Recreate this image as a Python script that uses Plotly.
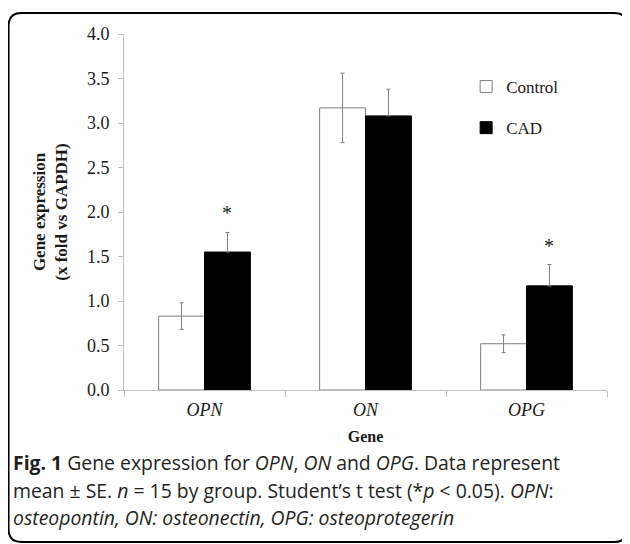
import plotly.graph_objects as go

# ---- data ----
genes = ["OPN", "ON", "OPG"]
control_mean = [0.83, 3.17, 0.52]
control_se = [0.15, 0.39, 0.10]
cad_mean = [1.55, 3.08, 1.17]
cad_se = [0.22, 0.30, 0.24]
significant = [True, False, True]
y_ticks = [0.0, 0.5, 1.0, 1.5, 2.0, 2.5, 3.0, 3.5, 4.0]

# ---- layout geometry (window pixels) ----
WIN_W, WIN_H = 630, 544
OFF = 8  # page body margin
W, H = WIN_W - OFF, WIN_H - OFF
L, R, T, B = 124.3, 606.7, 34, 390
PW, PH = R - L, B - T


def px(x):
    return (x - L) / PW


def py(y):
    return (B - y) / PH


SERIF = "Liberation Serif, Times New Roman, serif"
SANS = "Open Sans, Noto Sans, sans-serif"
GRAY = "#808080"
AXIS = "#bfbfbf"
TXT = "#1a1a1a"

fig = go.Figure()
fig.add_trace(go.Bar(
    name="Control", x=genes, y=control_mean,
    marker=dict(color="white", line=dict(color=GRAY, width=1)),
    error_y=dict(type="data", array=control_se, visible=True,
                 color=GRAY, thickness=1, width=2),
    legendgroup="a",
))
fig.add_trace(go.Bar(
    name="CAD", x=genes, y=cad_mean,
    marker=dict(color="black", line=dict(color="black", width=1)),
    error_y=dict(type="data", array=cad_se, arrayminus=[0] * len(cad_se),
                 symmetric=False, visible=True,
                 color=GRAY, thickness=1, width=2),
    legendgroup="b",
))

bargap = 0.43
half = (1 - bargap) / 4  # centre offset of each bar within the group
annotations = []
for i, (g, m, s, sig) in enumerate(zip(genes, cad_mean, cad_se, significant)):
    if sig:
        annotations.append(dict(
            x=i + half, y=m + s, xref="x", yref="y", text="*",
            showarrow=False, yanchor="middle", yshift=19,
            font=dict(family=SERIF, size=20, color=TXT),
        ))

caption_lines = [
    "<b>Fig. 1</b> Gene expression for <i>OPN</i>, <i>ON</i> and <i>OPG</i>. Data represent",
    "mean ± SE. <i>n</i> = 15 by group. Student’s t test (*<i>p</i> &lt; 0.05). <i>OPN</i>:",
    "<i>osteopontin, ON: osteonectin, OPG: osteoprotegerin</i>",
]
caption_y = [463, 490, 517]
for txt, yy in zip(caption_lines, caption_y):
    annotations.append(dict(
        x=px(11), y=py(yy), xref="paper", yref="paper", text=txt,
        showarrow=False, xanchor="left", yanchor="middle", align="left",
        font=dict(family=SANS, size=19.4, color="#231f20"),
    ))

# rounded frame
x0, y0, x1, y1, r = 9, 13, 627, 542, 13
path = (
    f"M {px(x0 + r)},{py(y0)} L {px(x1 - r)},{py(y0)} "
    f"Q {px(x1)},{py(y0)} {px(x1)},{py(y0 + r)} "
    f"L {px(x1)},{py(y1 - r)} Q {px(x1)},{py(y1)} {px(x1 - r)},{py(y1)} "
    f"L {px(x0 + r)},{py(y1)} Q {px(x0)},{py(y1)} {px(x0)},{py(y1 - r)} "
    f"L {px(x0)},{py(y0 + r)} Q {px(x0)},{py(y0)} {px(x0 + r)},{py(y0)} Z"
)

fig.update_layout(
    width=W, height=H,
    margin=dict(l=L - OFF, r=WIN_W - R, t=T - OFF, b=WIN_H - B, autoexpand=False),
    paper_bgcolor="white", plot_bgcolor="white",
    barmode="group", bargap=bargap, bargroupgap=0,
    font=dict(family=SERIF, color=TXT),
    showlegend=True,
    legend=dict(
        x=px(466), y=py(69), xanchor="left", yanchor="top",
        font=dict(family=SERIF, size=17, color=TXT),
        bgcolor="rgba(0,0,0,0)", tracegroupgap=16, traceorder="grouped",
    ),
    xaxis=dict(
        showline=True, linecolor=AXIS, linewidth=1,
        ticks="outside", tickson="boundaries", ticklen=6, tickcolor=AXIS,
        tickfont=dict(family=SERIF, size=18, color=TXT),
        ticktext=[f"<i>{g}</i>" for g in genes], tickvals=genes,
        ticklabelstandoff=3,
        title=dict(text="<b>Gene</b>", font=dict(family=SERIF, size=16, color=TXT),
                   standoff=12),
        showgrid=False, automargin=False,
    ),
    yaxis=dict(
        range=[0, 4], tickvals=y_ticks,
        ticktext=[f"{v:.1f}" for v in y_ticks],
        showline=True, linecolor=AXIS, linewidth=1,
        ticks="outside", ticklen=5, tickcolor=AXIS, ticklabelstandoff=5,
        tickfont=dict(family=SERIF, size=18, color=TXT),
        title=dict(text="<b>Gene expression<br>(x fold vs GAPDH)</b>",
                   font=dict(family=SERIF, size=17, color=TXT), standoff=14),
        showgrid=False, zeroline=False, automargin=False,
    ),
    annotations=annotations,
    shapes=[dict(type="path", path=path, xref="paper", yref="paper",
                 line=dict(color="black", width=2), layer="above")],
)

fig.write_html("out.html")
